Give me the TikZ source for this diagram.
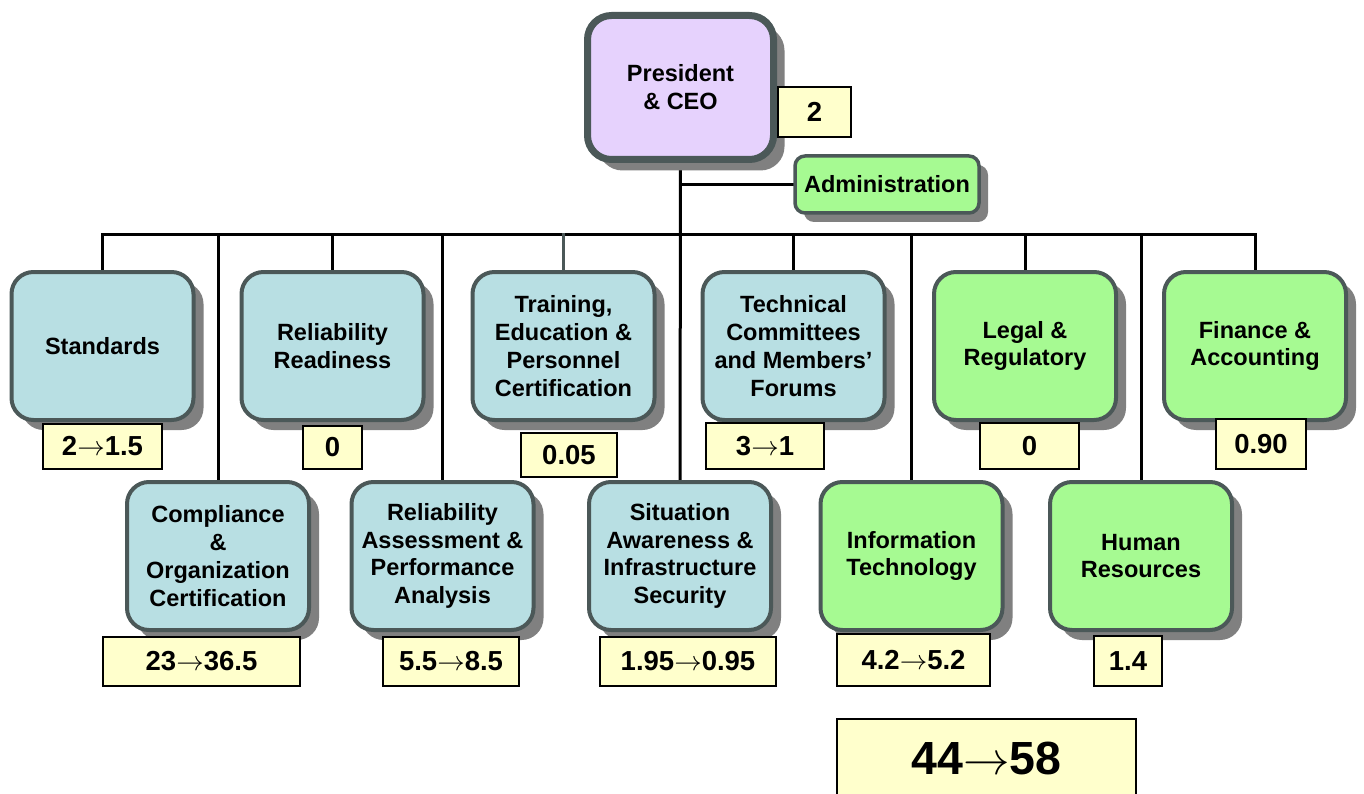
\documentclass[tikz,border=0pt]{standalone}
\usepackage{graphicx}
\usepackage{fontspec}
\setmainfont{Liberation Sans}
\usetikzlibrary{shadows,backgrounds}

\definecolor{lavender}{HTML}{E6D2FD}
\definecolor{deptblue}{HTML}{B8DFE3}
\definecolor{deptgreen}{HTML}{A6FA92}
\definecolor{valyellow}{HTML}{FFFFCC}
\definecolor{rim}{HTML}{4B5858}
\definecolor{shade}{HTML}{808080}

\newcommand\deptfont{\fontsize{23.5}{27.8}\selectfont\bfseries}
\newcommand\valfont{\fontsize{27.5}{30}\selectfont\bfseries}
\newcommand\sumfont{\fontsize{46.5}{50}\selectfont\bfseries}
% thin arrow between the old and the new head count, sized to the current font
\newcommand\tto{\resizebox{1em}{!}{$\rightarrow$}}

\tikzset{
  unit/.style={rounded corners=22pt, draw=rim, line width=4pt,
    minimum width=182pt, minimum height=148pt, align=center, inner sep=0pt,
    font=\deptfont,
    drop shadow={shadow xshift=10pt, shadow yshift=-10pt, fill=shade, opacity=1}},
  ops/.style={unit, fill=deptblue},
  support/.style={unit, fill=deptgreen},
  chief/.style={unit, fill=lavender, line width=7pt, rounded corners=24pt,
    minimum width=186pt, minimum height=144pt,
    drop shadow={shadow xshift=11pt, shadow yshift=-11pt, fill=shade, opacity=1}},
  staff/.style={rounded corners=10pt, draw=rim, line width=3.5pt, fill=deptgreen,
    minimum width=184pt, minimum height=57pt, inner sep=0pt, font=\deptfont,
    drop shadow={shadow xshift=9pt, shadow yshift=-9pt, fill=shade, opacity=1}},
  value/.style={draw=black, line width=2pt, fill=valyellow, inner sep=0pt,
    font=\valfont},
  conn/.style={line width=3pt, black, line cap=rect},
  greyconn/.style={conn, rim},
}

\begin{document}
\begin{tikzpicture}[x=1pt, y=-1pt]
\useasboundingbox (0,0) rectangle (1364,794);

% executive office
\node[chief] (pres) at (680.5,87.5) {President\\\& CEO};
\node[staff] (adm) at (887,184.5) {Administration};
\node[value, minimum width=73pt, minimum height=50pt] (presv) at (814.5,112) {2};

% first row of departments
\node[ops] (std) at (102.5,346) {Standards};
\node[ops] (rr) at (332.5,346) {Reliability\\Readiness};
\node[ops] (trn) at (563.5,346) {Training,\\Education \&\\Personnel\\Certification};
\node[ops] (tech) at (793.5,346) {Technical\\Committees\\and Members’\\Forums};
\node[support] (legal) at (1025,346) {Legal \&\\Regulatory};
\node[support] (fin) at (1255,346) {Finance \&\\Accounting};

% second row of departments
\node[ops] (cmp) at (218,556) {Compliance\\\&\\Organization\\Certification};
\node[ops] (ra) at (442.5,556) {Reliability\\Assessment \&\\Performance\\Analysis};
\node[ops] (sa) at (680,556) {Situation\\Awareness \&\\Infrastructure\\Security};
\node[support] (it) at (911.5,556) {Information\\Technology};
\node[support] (hr) at (1141,556) {Human\\Resources};

% staffing figures
\node[value, minimum width=119pt, minimum height=45pt] (stdv) at (102.5,446.5) {2\tto1.5};
\node[value, minimum width=59pt, minimum height=43pt] (rrv) at (332.5,447.5) {0};
\node[value, minimum width=96pt, minimum height=44pt] (trnv) at (569,455) {0.05};
\node[value, minimum width=118pt, minimum height=46pt] (techv) at (765,446) {3\tto1};
\node[value, minimum width=99pt, minimum height=46pt] (legalv) at (1029.5,446) {0};
\node[value, minimum width=90pt, minimum height=50pt] (finv) at (1261,444) {0.90};
\node[value, minimum width=197pt, minimum height=49pt] (cmpv) at (201.5,661.5) {23\tto36.5};
\node[value, minimum width=136pt, minimum height=49pt] (rav) at (451,661.5) {5.5\tto8.5};
\node[value, minimum width=176pt, minimum height=49pt] (sav) at (688,661.5) {1.95\tto0.95};
\node[value, minimum width=153pt, minimum height=52pt] (itv) at (913.5,660) {4.2\tto5.2};
\node[value, minimum width=68pt, minimum height=50pt] (hrv) at (1128,661) {1.4};
\node[value, font=\sumfont, minimum width=299pt, minimum height=78pt] (total) at (986.5,758) {44\tto58};

% reporting lines
\coordinate (bus) at (0,235);
\begin{scope}[on background layer]
  \draw[conn] (pres.south) -- (sa.north);
  \draw[conn] (pres.south |- adm.west) -- (adm.west);
  \draw[conn] (std.north |- bus) -- (fin.north |- bus);
  \draw[conn] (std.north |- bus) -- (std.north);
  \draw[conn] (rr.north |- bus) -- (rr.north);
  \draw[greyconn] (trn.north |- bus) -- (trn.north);
  \draw[conn] (tech.north |- bus) -- (tech.north);
  \draw[conn] (legal.north |- bus) -- (legal.north);
  \draw[conn] (fin.north |- bus) -- (fin.north);
  \draw[conn] (cmp.north |- bus) -- (cmp.north);
  \draw[conn] (ra.north |- bus) -- (ra.north);
  \draw[conn] (it.north |- bus) -- (it.north);
  \draw[conn] (hr.north |- bus) -- (hr.north);
\end{scope}
\end{tikzpicture}
\end{document}
